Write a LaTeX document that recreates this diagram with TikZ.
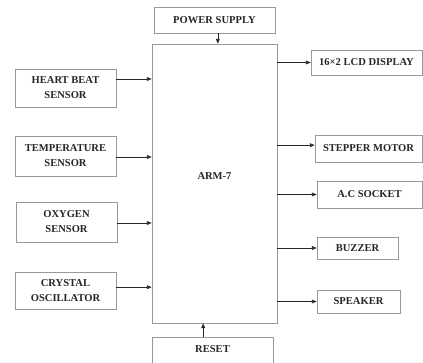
\documentclass[tikz,border=0pt]{standalone}
\usepackage{fontspec}
\setmainfont{Liberation Serif}
\usepackage{tikz}
\usetikzlibrary{arrows.meta,
                positioning}

\begin{document}
\begin{tikzpicture}[x=0.03cm, y=-0.03cm,
  blk/.style = {draw=black!40, line width=0.6pt, inner sep=0pt, align=center,
      font=\fontsize{9}{12.8}\selectfont\bfseries, text=black!85},
  conn/.style = {draw=black!85, line width=0.5pt,
      -{Triangle[length=4pt, width=3.2pt]}}
  ]
  \useasboundingbox (0,0) rectangle (423,362);
  \node[blk, minimum width=3.75cm, minimum height=8.37cm, text depth=0.42cm]
    (arm) at (214.5,183.5) {ARM-7};
  \node[blk, minimum width=3.63cm, minimum height=0.78cm] (power) at (214.5,20) {POWER SUPPLY};
  \node[blk, anchor=north, minimum width=3.63cm, text height=0.45cm, text depth=0.8cm]
    (reset) at (212.5,337) {RESET};
  % inputs
  \node[blk, minimum width=3.03cm, minimum height=1.14cm] (heart) at (65.5,88) {HEART BEAT\\SENSOR};
  \node[blk, minimum width=3.03cm, minimum height=1.2cm] (temp) at (65.5,156) {TEMPERATURE\\SENSOR};
  \node[blk, minimum width=3.03cm, minimum height=1.2cm] (oxy) at (66.5,222) {OXYGEN\\SENSOR};
  \node[blk, minimum width=3.03cm, minimum height=1.11cm] (crystal) at (65.5,290.5) {CRYSTAL\\OSCILLATOR};
  % outputs
  \node[blk, minimum width=3.33cm, minimum height=0.75cm] (lcd) at (366.5,62.5) {16×2 LCD DISPLAY};
  \node[blk, minimum width=3.21cm, minimum height=0.81cm] (stepper) at (368.5,148.5) {STEPPER MOTOR};
  \node[blk, minimum width=3.15cm, minimum height=0.81cm] (acsock) at (369.5,194.5) {A.C SOCKET};
  \node[blk, minimum width=2.43cm, minimum height=0.66cm] (buzzer) at (357.5,248) {BUZZER};
  \node[blk, minimum width=2.49cm, minimum height=0.69cm] (speaker) at (358.5,301.5) {SPEAKER};
  %
  \draw[conn] ([xshift=0.1cm]power.south) -- ([xshift=0.1cm]power.south |- arm.north);
  \draw[conn] ([xshift=-0.28cm]reset.north) -- ([xshift=-0.28cm]reset.north |- arm.south);
  \draw[conn] ([yshift=0.27cm]heart.east) -- ([yshift=0.27cm]heart.east -| arm.west);
  \draw[conn] ([yshift=-0.03cm]temp.east) -- ([yshift=-0.03cm]temp.east -| arm.west);
  \draw[conn] ([yshift=-0.03cm]oxy.east) -- ([yshift=-0.03cm]oxy.east -| arm.west);
  \draw[conn] ([yshift=0.1cm]crystal.east) -- ([yshift=0.1cm]crystal.east -| arm.west);
  \draw[conn] (arm.east |- lcd.west) -- (lcd.west);
  \draw[conn] ([yshift=0.1cm]arm.east |- stepper.west) -- ([yshift=0.1cm]stepper.west);
  \draw[conn] (arm.east |- acsock.west) -- (acsock.west);
  \draw[conn] (arm.east |- buzzer.west) -- (buzzer.west);
  \draw[conn] (arm.east |- speaker.west) -- (speaker.west);
\end{tikzpicture}
\end{document}
